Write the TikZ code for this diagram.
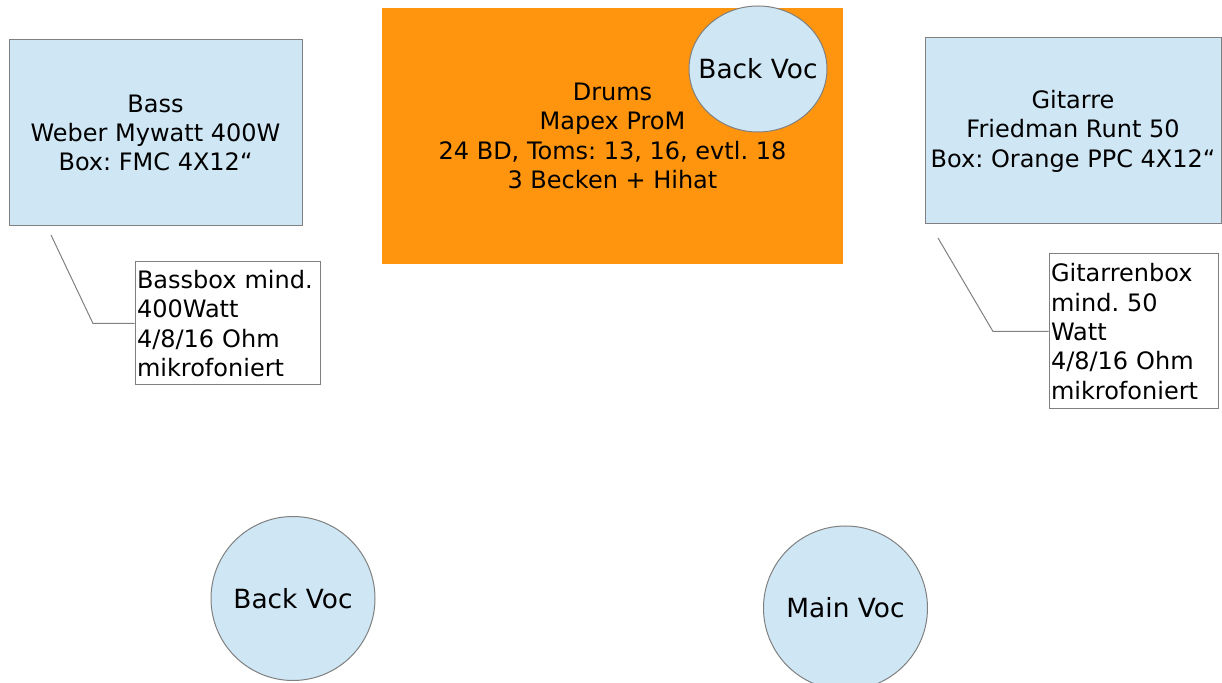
\documentclass[tikz,border=0pt]{standalone}
\usepackage{fontspec}
\setmainfont{DejaVu Sans}
\usetikzlibrary{shapes.geometric}
\definecolor{paleblue}{HTML}{CFE7F5}
\definecolor{drumorange}{HTML}{FF950E}
\definecolor{rim}{HTML}{808080}
\frenchspacing

\begin{document}
\begin{tikzpicture}[x=0.5pt,y=-0.5pt,
        every node/.style={font=\fontsize{12}{14.7}\selectfont,inner sep=0pt},
        every label/.style={font=\fontsize{13.2}{16}\selectfont},
        amp/.style={rectangle,draw=rim,fill=paleblue,line width=0.5pt,align=center},
        note/.style={rectangle,draw=rim,fill=white,line width=0.5pt,align=left,inner xsep=1pt},
        voc/.style={ellipse,draw=rim,fill=paleblue,line width=0.5pt},
        pin/.style={draw=rim,line width=0.5pt}]
        \useasboundingbox (0,0) rectangle (1222,683);
        % Drums
        \node[fill=drumorange,minimum width=230.5pt,minimum height=128pt,align=center] (drums) at (612.5,136)
            {Drums\\ Mapex ProM\\ 24 BD, Toms: 13, 16, evtl. 18\\ 3 Becken + Hihat};
        \node[voc,minimum width=69pt,minimum height=63pt,label=center:Back Voc] (backVocDrums) at (758,69) {};
        % Bass
        \node[amp,minimum width=146.5pt,minimum height=93pt] (bass) at (155.5,133)
            {Bass\\ Weber Mywatt 400W\\ Box: FMC 4X12\char"201C};
        \coordinate (bassPin) at (51,235);
        \coordinate (bassKnee) at (93,323.5);
        \node[note,text width=90.5pt,minimum height=61.5pt] (bassNote) at (227.5,323.5)
            {Bassbox mind.\\ 400Watt\\ 4/8/16 Ohm\\ mikrofoniert};
        \draw[pin] (bassPin) -- (bassKnee) -- (bassNote.west);
        % Gitarre
        \node[amp,minimum width=148pt,minimum height=93pt] (guitar) at (1073,131)
            {Gitarre\\ Friedman Runt 50\\ Box: Orange PPC 4X12\char"201C};
        \coordinate (guitarPin) at (938,238);
        \coordinate (guitarKnee) at (993,331.5);
        \node[note,text width=82.5pt,minimum height=77.5pt] (guitarNote) at (1133.5,331.5)
            {Gitarrenbox\\ mind. 50\\ Watt\\ 4/8/16 Ohm\\ mikrofoniert};
        \draw[pin] (guitarPin) -- (guitarKnee) -- (guitarNote.west);
        % Vocals
        \node[voc,minimum size=82pt,label=center:Back Voc] (backVoc) at (293,598.5) {};
        \node[voc,minimum size=82pt,label=center:Main Voc] (mainVoc) at (845.5,608) {};
\end{tikzpicture}
\end{document}
